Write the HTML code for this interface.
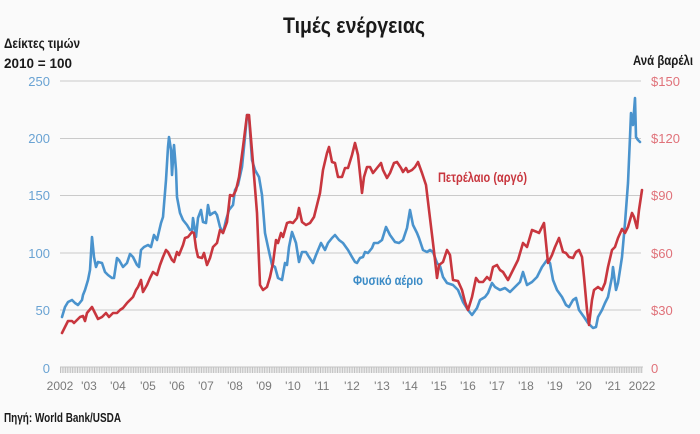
<!DOCTYPE html>
<html><head><meta charset="utf-8"><style>
html,body{margin:0;padding:0;background:#fafafa;}
svg{display:block;}
</style></head><body>
<svg width="700" height="434" viewBox="0 0 700 434" xmlns="http://www.w3.org/2000/svg">
<defs>
<pattern id="tk" x="60" y="0" width="2.43" height="10" patternUnits="userSpaceOnUse">
<rect x="0" y="0" width="2.43" height="10" fill="#ebebeb"/>
<rect x="0" y="0" width="1" height="10" fill="#c0c0c0"/>
</pattern>
</defs>
<rect width="700" height="434" fill="#fafafa"/>
<text x="283" y="33" textLength="142" lengthAdjust="spacingAndGlyphs" font-family="Liberation Sans Narrow, Liberation Sans, sans-serif" font-weight="bold" font-size="22" fill="#1a1a1a">Τιμές ενέργειας</text>
<text x="4" y="48" textLength="76" lengthAdjust="spacingAndGlyphs" font-family="Liberation Sans Narrow, Liberation Sans, sans-serif" font-weight="bold" font-size="13.5" fill="#1a1a1a">Δείκτες τιμών</text>
<text x="4" y="68" textLength="68" lengthAdjust="spacingAndGlyphs" font-family="Liberation Sans Narrow, Liberation Sans, sans-serif" font-weight="bold" font-size="13.5" fill="#1a1a1a">2010 = 100</text>
<text x="633" y="65" textLength="60" lengthAdjust="spacingAndGlyphs" font-family="Liberation Sans Narrow, Liberation Sans, sans-serif" font-weight="bold" font-size="13.5" fill="#1a1a1a">Ανά βαρέλι</text>
<g stroke="#cacaca" stroke-width="1">
<line x1="60" y1="81" x2="641" y2="81"/>
<line x1="60" y1="138.5" x2="641" y2="138.5"/>
<line x1="60" y1="195.5" x2="641" y2="195.5"/>
<line x1="60" y1="253" x2="641" y2="253"/>
<line x1="60" y1="310" x2="641" y2="310"/>
</g>
<rect x="60" y="367" width="583" height="6" fill="url(#tk)"/>
<line x1="60" y1="367" x2="643" y2="367" stroke="#c4c4c4" stroke-width="1"/>
<g font-family="Liberation Sans, sans-serif" font-size="13" fill="#6aa3d3" text-anchor="end">
<text x="50" y="86">250</text>
<text x="50" y="143">200</text>
<text x="50" y="200">150</text>
<text x="50" y="258">100</text>
<text x="50" y="315">50</text>
<text x="50" y="373">0</text>
</g>
<g font-family="Liberation Sans, sans-serif" font-size="13" fill="#e0727a">
<text x="651" y="86">$150</text>
<text x="651" y="143">$120</text>
<text x="651" y="200">$90</text>
<text x="651" y="258">$60</text>
<text x="651" y="315">$30</text>
<text x="651" y="373">0</text>
</g>
<g font-family="Liberation Sans, sans-serif" font-size="12" fill="#7a7a7a" text-anchor="middle">
<text x="60" y="390">2002</text>
<text x="89" y="390">'03</text>
<text x="118" y="390">'04</text>
<text x="148" y="390">'05</text>
<text x="177" y="390">'06</text>
<text x="206" y="390">'07</text>
<text x="235" y="390">'08</text>
<text x="264" y="390">'09</text>
<text x="293" y="390">'10</text>
<text x="322" y="390">'11</text>
<text x="352" y="390">'12</text>
<text x="382" y="390">'13</text>
<text x="410" y="390">'14</text>
<text x="439" y="390">'15</text>
<text x="468" y="390">'16</text>
<text x="497" y="390">'17</text>
<text x="526" y="390">'18</text>
<text x="555" y="390">'19</text>
<text x="584" y="390">'20</text>
<text x="613" y="390">'21</text>
<text x="642" y="390">2022</text>
</g>
<polyline fill="none" stroke="#4a93cd" stroke-width="2.6" stroke-linejoin="round" stroke-linecap="round" points="62,317 65,307 68,302 72,300 75,303 78,305 82,300 83,295 85,290 88,280 90,270 92,237 94,257 96,267 98,262 102,263 105,272 108,275 112,278 114,278 117,258 119,260 123,267 127,263 130,254 133,257 137,265 139,267 141,250 144,247 148,245 151,247 154,235 157,240 161,223 163,217 166,180 168,147 169,137 171,150 172,175 174,145 176,170 177,197 180,213 183,220 187,225 190,230 192,230 193,218 196,237 198,218 201,210 203,222 206,223 208,205 210,215 213,213 215,212 217,215 220,227 223,233 226,220 229,210 233,205 235,190 238,185 242,167 245,137 247,115 249,117 252,160 255,170 259,177 262,195 265,233 268,247 272,265 275,267 278,278 282,280 285,263 287,265 289,247 292,232 296,243 299,262 302,252 306,252 309,257 313,263 316,255 321,243 325,250 328,243 332,238 335,235 339,240 343,243 348,250 352,257 355,262 357,263 360,258 363,257 365,252 368,253 372,248 374,243 378,243 382,240 386,227 390,235 395,242 399,243 403,240 407,228 410,210 413,225 417,233 419,238 423,250 427,252 430,250 433,252 437,263 440,266 443,277 447,283 453,285 458,290 463,302 468,310 472,315 477,308 480,300 485,297 488,293 492,283 495,287 500,290 505,288 510,292 515,287 520,282 523,272 527,285 532,282 537,277 542,267 547,260 550,263 553,280 557,290 562,297 566,305 569,307 573,300 576,298 579,310 584,317 588,323 593,328 596,327 598,317 602,310 605,303 608,297 612,277 613,267 616,290 618,283 622,257 625,223 628,183 630,137 631,113 633,125 635,98 636,137 638,140 640,142"/>
<polyline fill="none" stroke="#c8363e" stroke-width="2.6" stroke-linejoin="round" stroke-linecap="round" points="62,333 65,327 68,321 72,321 74,323 77,320 80,317 83,316 85,321 87,313 92,307 95,313 98,319 102,317 106,313 109,317 113,313 117,313 120,310 123,308 127,303 130,300 133,297 136,290 138,287 141,280 143,292 147,285 150,278 153,272 157,275 160,265 163,257 166,250 168,252 172,260 174,262 177,252 179,255 183,245 185,238 188,237 192,232 194,233 196,248 198,257 202,258 204,253 207,265 210,258 213,247 217,243 220,230 223,233 227,222 230,195 233,196 236,190 239,177 243,147 247,115 249,115 253,163 257,213 260,285 263,290 267,287 270,277 273,263 276,240 278,243 281,233 283,237 287,223 290,222 293,223 297,218 299,208 302,222 306,225 310,223 314,217 317,205 320,193 323,170 327,153 329,147 332,162 335,163 338,177 342,177 345,168 348,168 352,155 355,143 358,155 362,193 364,177 367,167 370,167 373,173 377,168 381,163 383,170 387,178 390,173 394,163 397,162 401,168 403,172 406,168 408,172 412,170 415,167 418,162 422,173 426,185 429,210 433,243 435,260 437,278 439,265 443,262 447,250 450,255 453,280 458,281 462,290 465,302 468,310 472,297 476,278 479,282 483,282 487,277 490,280 493,267 497,265 500,270 503,272 508,280 513,270 518,260 523,243 527,247 532,230 537,232 539,233 542,227 544,223 548,263 552,255 555,247 559,238 563,252 566,253 569,257 573,258 576,252 579,250 582,257 584,277 587,310 589,325 592,300 594,290 598,287 602,290 605,283 608,267 612,250 615,247 618,238 622,229 625,233 628,227 632,213 634,217 637,228 639,210 642,190"/>
<text x="438" y="182" textLength="89" lengthAdjust="spacingAndGlyphs" font-family="Liberation Sans Narrow, Liberation Sans, sans-serif" font-weight="bold" font-size="13.5" fill="#c8363e">Πετρέλαιο (αργό)</text>
<text x="353" y="285" textLength="70" lengthAdjust="spacingAndGlyphs" font-family="Liberation Sans Narrow, Liberation Sans, sans-serif" font-weight="bold" font-size="13.5" fill="#3b8bc6">Φυσικό αέριο</text>
<text x="4" y="422" textLength="117" lengthAdjust="spacingAndGlyphs" font-family="Liberation Sans Narrow, Liberation Sans, sans-serif" font-weight="bold" font-size="12.5" fill="#1a1a1a">Πηγή: World Bank/USDA</text>
</svg>
</body></html>
